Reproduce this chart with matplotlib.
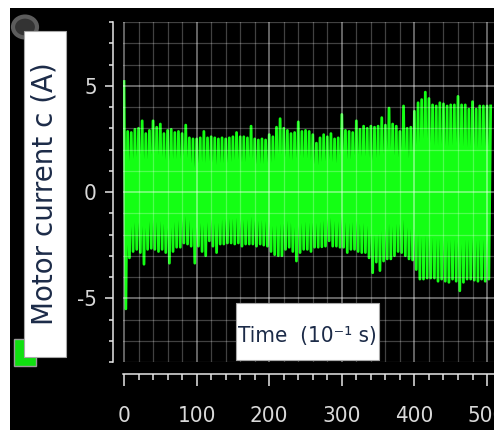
import numpy as np
import matplotlib
matplotlib.use("Agg")
import matplotlib.pyplot as plt
from matplotlib import font_manager
from matplotlib.font_manager import FontProperties
from matplotlib.patches import Rectangle, Circle

# sampled motor current: positive peaks and negative troughs, in A
peak_time = np.arange(0, 506, 5)
peak_current = [
    5.2, 2.85, 2.8, 2.95, 3.0, 3.35, 2.75, 2.9, 3.35, 3.05,
    3.2, 2.75, 2.9, 2.95, 2.8, 2.85, 2.75, 3.15, 2.55, 2.5,
    2.5, 2.55, 2.85, 2.55, 2.6, 2.55, 2.5, 2.55, 2.5, 2.55,
    2.6, 2.8, 2.6, 2.6, 2.55, 3.1, 2.5, 2.45, 2.5, 2.45,
    2.7, 2.6, 3.05, 3.45, 3.0, 2.9, 2.75, 2.8, 3.3, 2.85,
    2.9, 2.85, 2.7, 2.3, 2.55, 2.7, 2.6, 2.75, 2.5, 2.55,
    3.65, 2.9, 2.85, 2.8, 3.35, 2.95, 3.1, 3.0, 3.1, 3.05,
    3.1, 3.5, 3.15, 3.95, 3.2, 3.1, 2.85, 4.05, 3.0, 3.05,
    3.8, 4.2, 4.35, 4.7, 4.4, 4.1, 4.05, 4.2, 4.15, 4.05,
    4.1, 4.1, 4.5, 4.1, 4.1, 3.9, 4.25, 3.9, 4.05, 4.05,
    4.05, 4.05,
]
trough_time = np.arange(2.5, 503, 5)
trough_current = [
    -5.5, -3.1, -2.8, -2.7, -2.85, -3.4, -2.7, -2.65, -2.7, -2.8,
    -2.7, -2.85, -3.35, -2.8, -2.6, -2.6, -2.4, -2.45, -2.55, -3.35,
    -2.55, -2.8, -3.0, -2.3, -2.55, -2.85, -2.45, -2.45, -2.4, -2.4,
    -2.45, -2.4, -2.55, -2.45, -2.45, -2.45, -2.55, -2.45, -2.5, -2.55,
    -2.8, -2.95, -3.0, -3.0, -2.7, -2.6, -2.8, -3.25, -2.85, -2.7,
    -2.7, -2.8, -2.6, -2.6, -2.58, -2.55, -2.3, -2.55, -2.55, -2.6,
    -2.6, -2.85, -2.7, -2.7, -2.8, -2.85, -2.85, -3.1, -3.8, -3.3,
    -3.7, -3.25, -3.15, -3.15, -3.0, -2.8, -2.85, -3.0, -3.15, -3.2,
    -3.65, -4.1, -4.1, -4.05, -4.05, -4.05, -4.2, -4.1, -4.2, -4.25,
    -4.1, -4.2, -4.65, -4.25, -4.1, -4.1, -4.15, -4.2, -4.1, -4.2,
    -4.1,
]

x_major = [0, 100, 200, 300, 400, 500]
y_major = [-5, 0, 5]

W, H = 494, 430


def narrow_font():
    # a condensed sans face if one is installed, else plain DejaVu Sans
    for f in font_manager.fontManager.ttflist:
        if f.style != "normal" or f.weight not in (400, "normal", "regular"):
            continue
        if "Narrow" in f.name or "Condensed" in f.name or str(f.stretch) in ("condensed", "semi-condensed", "75", "87"):
            return FontProperties(fname=f.fname), True
    return FontProperties(family="DejaVu Sans"), False


NARROW, IS_NARROW = narrow_font()


def box(x0, y0, x1, y1):
    # pixel box (top-left origin) -> figure fractions
    return x0 / W, 1 - y1 / H, (x1 - x0) / W, (y1 - y0) / H


# interleave peaks and troughs into one waveform
t = np.empty(len(peak_time) + len(trough_time))
i = np.empty_like(t)
t[0::2], i[0::2] = peak_time, peak_current
t[1::2], i[1::2] = trough_time, trough_current

fig = plt.figure(figsize=(W / 100, H / 100), dpi=100, facecolor="white")
fig.add_artist(Rectangle((10 / W, 0), 1, 1 - 8 / H, transform=fig.transFigure,
                         facecolor="black", edgecolor="none", zorder=0))

ax = fig.add_axes([123 / W, 68 / H, (W - 123) / W, 340 / H])
ax.set_facecolor("black")
ax.plot(t, i, color="#14ff14", lw=2.0, solid_joinstyle="round", zorder=2)

ax.set_xlim(-1.4, 509.6)
ax.set_ylim(-8, 8)
ax.set_xticks(x_major)
ax.set_xticks(np.arange(0, 510, 20), minor=True)
ax.set_yticks(y_major)
ax.set_yticks(np.arange(-8, 9, 1), minor=True)
ax.set_yticklabels(["-5", "0", "5"])

ax.set_axisbelow(False)
ax.grid(which="major", color="white", alpha=0.5, lw=1.1, zorder=3)
ax.grid(which="minor", color="white", alpha=0.26, lw=0.9, zorder=3)

for side in ["top", "right"]:
    ax.spines[side].set_visible(False)
ax.spines["left"].set_position(("outward", 7.2))
ax.spines["bottom"].set_position(("outward", 8.6))
for side in ["left", "bottom"]:
    ax.spines[side].set_color("#e6e6e6")
    ax.spines[side].set_linewidth(1.1)

tick_size = 16 if IS_NARROW else 13
ax.tick_params(axis="both", which="both", direction="out", color="#e6e6e6",
               width=1.1, labelcolor="#d9d9d9")
ax.tick_params(axis="y", which="major", length=5.8, pad=5.8)
ax.tick_params(axis="y", which="minor", length=2.9)
ax.tick_params(axis="x", which="major", length=8.6, pad=14.5)
ax.tick_params(axis="x", which="minor", length=4.3)
for lab in ax.get_xticklabels() + ax.get_yticklabels():
    lab.set_fontproperties(NARROW)
    lab.set_fontsize(tick_size)

# legend marker and window button behind the label boxes
x0, y0, w, h = box(14, 339, 36, 366)
fig.add_artist(Rectangle((x0, y0), w, h, transform=fig.transFigure,
                         facecolor="#10e010", edgecolor="#9a9a9a", lw=1.0, zorder=4))
fig.add_artist(Circle((25 / W, 1 - 27 / H), 12 / W, transform=fig.transFigure,
                      facecolor="#333333", edgecolor="#5c5c5c", lw=3, zorder=4))

# y label box
x0, y0, w, h = box(24, 31, 66, 357)
fig.add_artist(Rectangle((x0, y0), w, h, transform=fig.transFigure,
                         facecolor="white", edgecolor="#a8a8a8", lw=0.8, zorder=5))
fig.text(45 / W, 1 - 194 / H, "Motor current c (A)", rotation=90,
         ha="center", va="center", fontsize=20, color="#1c2b48",
         family="DejaVu Sans", zorder=6)

# x label box
x0, y0, w, h = box(236, 303, 379, 360)
fig.add_artist(Rectangle((x0, y0), w, h, transform=fig.transFigure,
                         facecolor="white", edgecolor="#a8a8a8", lw=0.8, zorder=5))
xlab = fig.text(307 / W, 1 - 342 / H, "Time  (10\u207b\u00b9 s)",
                ha="center", va="baseline", color="#1c2b48", zorder=6)
xlab.set_fontproperties(NARROW)
xlab.set_fontsize(16 if IS_NARROW else 14)

fig.savefig("out.png", dpi=100, facecolor="white")
